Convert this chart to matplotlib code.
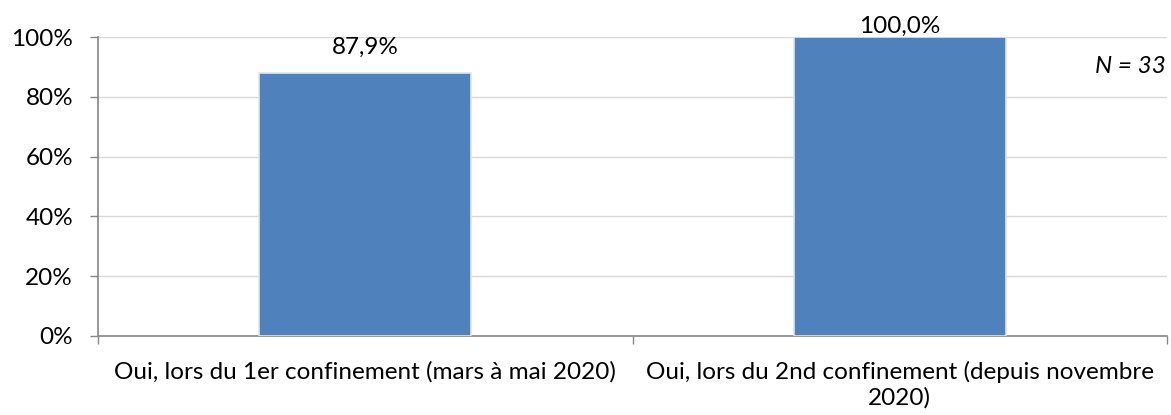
import matplotlib
matplotlib.use("Agg")
import matplotlib.pyplot as plt
from matplotlib.ticker import FixedLocator

categories = ["Oui, lors du 1er confinement (mars à mai 2020)",
              "Oui, lors du 2nd confinement (depuis novembre\n2020)"]
values = [87.9, 100.0]
value_labels = ["87,9%", "100,0%"]
yticks = [0, 20, 40, 60, 80, 100]
ytick_labels = ["0%", "20%", "40%", "60%", "80%", "100%"]
note = "N = 33"

FS = 17.5
label_offsets = [14, 3]
plt.rcParams['font.family'] = ['Lato', 'DejaVu Sans']
fig = plt.figure(figsize=(11.71, 4.15), dpi=100)
ax = fig.add_axes([0.0837, 0.1904, 0.9129, 0.7204])

x = [0, 1]
ax.bar(x, values, width=0.397, color="#4F81BD", edgecolor="#E4E4E4",
       linewidth=1.2, zorder=3)
ax.set_xlim(-0.5, 1.5)
ax.set_ylim(0, 100)
ax.yaxis.set_major_locator(FixedLocator(yticks))
ax.set_yticklabels(ytick_labels, fontsize=FS)
ax.grid(axis="y", color="#D9D9D9", linewidth=1, zorder=0)
ax.tick_params(axis="y", direction="out", length=6, width=1, color="#868686", pad=12)

ax.xaxis.set_major_locator(FixedLocator(x))
ax.set_xticklabels(categories, fontsize=FS, linespacing=1.25)
ax.tick_params(axis="x", length=0, pad=18)
ax.xaxis.set_minor_locator(FixedLocator([-0.5, 0.5, 1.5]))
ax.tick_params(axis="x", which="minor", direction="out", length=6, width=1, color="#868686")

for s in ["top", "right"]:
    ax.spines[s].set_visible(False)
for s in ["left", "bottom"]:
    ax.spines[s].set_color("#868686")
    ax.spines[s].set_linewidth(1.2)

for xi, v, lab, off in zip(x, values, value_labels, label_offsets):
    ax.annotate(lab, (xi, v), xytext=(0, off), textcoords="offset points",
                ha="center", va="baseline", fontsize=FS)

ax.text(1.497, 90, note, ha="right", va="center", fontsize=FS, style="italic")

fig.savefig("out.png", dpi=100)
